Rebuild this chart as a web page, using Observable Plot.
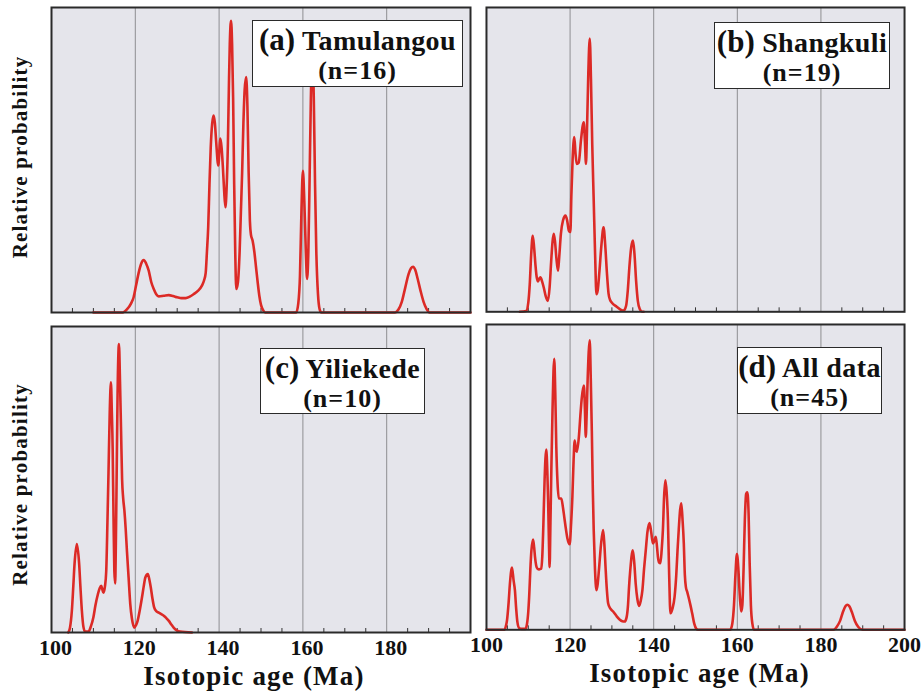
<!DOCTYPE html>
<html>
<head>
<meta charset="utf-8">
<script src="https://cdn.jsdelivr.net/npm/d3@7"></script>
<script src="https://cdn.jsdelivr.net/npm/@observablehq/plot@0.6"></script>
<style>
  html, body { margin: 0; padding: 0; background: #ffffff; }
  #wrap { position: relative; width: 922px; height: 692px; background: #ffffff; overflow: hidden; }
  .pnl { position: absolute; }
  .pnl svg { overflow: visible; }
  .lab { position: absolute; box-sizing: border-box; background: #ffffff; border: 1.5px solid #2a2a2a;
         font-family: "Liberation Serif", "DejaVu Serif", serif; font-weight: bold; color: #111; text-align: center; }
  .lab .l1 { white-space: nowrap; font-size: 28px; line-height: 30px; margin-top: 4px; letter-spacing: 0.4px; }
  .lab .tag { font-size: 31px; letter-spacing: 0; }
  .lab .l2 { white-space: nowrap; font-size: 26px; line-height: 26px; margin-top: 2px; letter-spacing: 1px; }
  g[aria-label="x-axis tick label"] text { font-size: 22px; }
</style>
</head>
<body>
<div id="wrap"></div>
<script>
// ---------- data ----------
const leftTicks = [100, 120, 140, 160, 180];
const rightTicks = [100, 120, 140, 160, 180, 200];
const gridAges = [120, 140, 160, 180];
const minorAges = [105, 110, 115, 125, 130, 135, 145, 150, 155, 165, 170, 175, 185, 190, 195];
const panelTags = ["(a)", "(b)", "(c)", "(d)"];
const panelNames = ["Tamulangou", "Shangkuli", "Yiliekede", "All data"];
const panelCounts = [16, 19, 10, 45];
const xTitle = "Isotopic age (Ma)";
const yTitle = "Relative probability";

// [age (Ma), relative probability]
const curveA = [
  [110,0],[117,0],[118,0.01],[119,0.03],[119.6,0.05],[120.2,0.09],[120.8,0.13],[121.4,0.16],[122,0.172],
  [122.6,0.16],[123.2,0.137],[123.8,0.1],[124.4,0.077],[125,0.06],[125.6,0.053],[126.8,0.055],[128,0.057],
  [129,0.054],[130,0.05],[131,0.047],[132,0.047],[133,0.052],[133.9,0.06],[135,0.072],[135.9,0.088],
  [136.4,0.105],[136.8,0.13],[137.1,0.2],[137.4,0.28],[137.7,0.42],[138,0.54],[138.35,0.62],[138.7,0.646],
  [139,0.62],[139.3,0.56],[139.8,0.482],[140.3,0.57],[140.6,0.54],[140.9,0.477],[141.2,0.4],[141.5,0.345],
  [141.8,0.41],[142.1,0.553],[142.35,0.75],[142.55,0.88],[142.85,0.956],[143.1,0.88],[143.35,0.7],
  [143.6,0.42],[143.85,0.2],[144.1,0.077],[144.5,0.1],[144.9,0.2],[145.2,0.33],[145.5,0.46],[145.8,0.62],
  [146.1,0.73],[146.45,0.772],[146.75,0.68],[147.05,0.46],[147.35,0.3],[147.6,0.255],[148,0.235],
  [148.4,0.2],[148.8,0.15],[149.2,0.1],[149.6,0.055],[150,0.025],[150.5,0.008],[151,0],
  [158.4,0],[158.9,0.03],[159.3,0.12],[159.65,0.33],[160,0.465],[160.35,0.36],[160.7,0.2],[161,0.11],
  [161.3,0.2],[161.6,0.44],[161.9,0.7],[162.25,0.85],[162.6,0.7],[162.9,0.42],[163.2,0.2],[163.6,0.06],
  [164,0.01],[164.4,0],[182,0],[182.8,0.01],[183.6,0.035],[184.4,0.08],[185.2,0.125],[185.8,0.145],
  [186.3,0.15],[186.8,0.14],[187.4,0.11],[188.1,0.07],[188.8,0.035],[189.5,0.012],[190.2,0],[200,0]
];

const curveB = [
  [108,0],[109.5,0.003],[110,0.03],[110.35,0.09],[110.7,0.19],[111.07,0.25],[111.4,0.21],[111.7,0.157],
  [112,0.115],[112.3,0.1],[112.6,0.108],[112.9,0.113],[113.3,0.1],[113.7,0.08],[114.2,0.05],[114.7,0.036],
  [115.1,0.08],[115.45,0.16],[115.8,0.23],[116.1,0.256],[116.4,0.23],[116.7,0.18],[117.1,0.135],
  [117.4,0.18],[117.8,0.256],[118.3,0.3],[118.9,0.316],[119.3,0.3],[119.7,0.267],[120.07,0.262],
  [120.3,0.38],[120.6,0.5],[121,0.574],[121.3,0.52],[121.6,0.486],[122.06,0.49],[122.6,0.563],[123,0.61],
  [123.26,0.623],[123.55,0.56],[123.8,0.486],[124.05,0.6],[124.35,0.78],[124.7,0.898],[125,0.76],
  [125.3,0.55],[125.65,0.366],[126,0.18],[126.3,0.058],[126.6,0.07],[127,0.13],[127.5,0.22],[128,0.278],
  [128.4,0.22],[128.8,0.13],[129.2,0.06],[129.6,0.038],[130,0.03],[131.2,0.016],[132.2,0.006],
  [132.8,0.004],[133.4,0.02],[133.8,0.07],[134.2,0.15],[134.6,0.21],[135.05,0.234],[135.4,0.19],
  [135.8,0.1],[136.2,0.036],[136.7,0.008],[137.2,0],[137.6,0]
];

const curveC = [
  [104,0],[104.4,0.015],[104.86,0.071],[105.2,0.15],[105.5,0.224],[106.05,0.289],[106.6,0.224],
  [106.9,0.15],[107.25,0.071],[107.6,0.02],[108,0.003],[108.85,0.003],[109.4,0.02],[110,0.05],
  [110.5,0.09],[111.07,0.125],[111.5,0.145],[111.87,0.153],[112.15,0.14],[112.4,0.13],[112.75,0.15],
  [113.06,0.2],[113.35,0.36],[113.6,0.52],[113.9,0.72],[114.18,0.818],[114.4,0.72],[114.6,0.6],
  [114.8,0.38],[115,0.2],[115.2,0.16],[115.35,0.28],[115.5,0.45],[115.77,0.78],[116.1,0.943],
  [116.35,0.82],[116.6,0.66],[116.85,0.5],[117.1,0.44],[117.4,0.398],[117.7,0.34],[118,0.267],
  [118.4,0.18],[118.8,0.093],[119.2,0.045],[119.75,0.016],[120.2,0.025],[120.55,0.038],[121.1,0.075],
  [121.6,0.115],[122,0.15],[122.4,0.18],[123,0.191],[123.4,0.17],[123.7,0.147],[124.1,0.11],
  [124.5,0.082],[125,0.07],[125.6,0.065],[126.2,0.06],[126.8,0.055],[127.4,0.047],[128,0.038],
  [128.6,0.026],[129.15,0.016],[129.9,0.007],[130.7,0.003],[133.5,0]
];

const curveD = [
  [100,0],[104.3,0],[104.6,0.01],[104.9,0.03],[105.3,0.09],[105.6,0.15],[106.1,0.204],[106.5,0.16],
  [106.8,0.13],[107.1,0.07],[107.4,0.025],[107.8,0.006],[108.4,0.003],[109.3,0.003],[109.7,0.02],
  [110,0.06],[110.25,0.12],[110.5,0.2],[110.75,0.26],[111.15,0.296],[111.4,0.27],[111.6,0.24],
  [111.9,0.21],[112.2,0.2],[112.6,0.198],[113.1,0.2],[113.35,0.24],[113.6,0.34],[113.9,0.49],[114.3,0.59],
  [114.55,0.52],[114.75,0.42],[114.95,0.28],[115.1,0.205],[115.3,0.35],[115.55,0.55],[115.8,0.72],
  [116.2,0.888],[116.45,0.78],[116.7,0.6],[117,0.48],[117.3,0.43],[117.9,0.43],[118.3,0.4],[118.6,0.37],
  [119,0.33],[119.35,0.3],[119.9,0.28],[120.25,0.35],[120.55,0.436],[120.85,0.56],[121.1,0.62],
  [121.4,0.59],[121.6,0.583],[122.1,0.632],[122.45,0.7],[122.8,0.76],[123.3,0.8],[123.55,0.72],
  [123.75,0.632],[123.95,0.7],[124.2,0.82],[124.7,0.948],[124.95,0.82],[125.2,0.65],[125.45,0.45],
  [125.65,0.327],[125.95,0.2],[126.3,0.13],[126.6,0.15],[126.9,0.196],[127.4,0.28],[127.9,0.327],
  [128.2,0.28],[128.5,0.2],[128.8,0.13],[129.1,0.087],[129.6,0.07],[130.3,0.06],[131.1,0.045],
  [131.9,0.033],[132.5,0.028],[133.05,0.027],[133.5,0.04],[133.85,0.08],[134.1,0.14],[134.4,0.196],
  [135,0.26],[135.35,0.22],[135.7,0.15],[136.1,0.1],[136.5,0.078],[136.9,0.095],[137.3,0.13],
  [137.7,0.2],[138.1,0.26],[138.5,0.32],[139,0.35],[139.4,0.32],[139.8,0.283],[140.1,0.29],[140.5,0.305],
  [140.8,0.27],[141,0.24],[141.3,0.22],[141.6,0.218],[141.9,0.26],[142.2,0.327],[142.5,0.44],[142.8,0.49],
  [143.1,0.45],[143.4,0.36],[143.7,0.18],[144,0.054],[144.5,0.07],[145,0.109],[145.4,0.18],[145.7,0.26],
  [146,0.33],[146.3,0.39],[146.6,0.414],[146.9,0.36],[147.2,0.283],[147.45,0.18],[147.7,0.14],
  [148,0.125],[148.3,0.109],[148.8,0.08],[149.2,0.054],[149.7,0.02],[150.2,0.003],[150.6,0],
  [158.3,0],[158.8,0.02],[159.2,0.08],[159.55,0.18],[159.9,0.248],[160.25,0.2],[160.6,0.11],
  [160.93,0.06],[161.2,0.08],[161.5,0.2],[161.8,0.36],[162.1,0.445],[162.4,0.45],[162.7,0.38],
  [162.95,0.22],[163.25,0.08],[163.6,0.02],[164,0],[183,0],[183.8,0.01],[184.6,0.03],[185.3,0.06],
  [185.9,0.078],[186.3,0.082],[186.8,0.077],[187.4,0.058],[188.1,0.03],[188.9,0.01],[190,0],[200,0]
];

const curves = [curveA, curveB, curveC, curveD];

// ---------- layout ----------
const layout = [
  {left: 0,   top: 0,   mL: 51, mR: 6,  mT: 7, mB: 1,  h: 313, ticks: null, tdx: 0, xdx: 0, ydy: -3, showY: true,
   box: {left: 252, top: 20, width: 211, height: 67}},
  {left: 476, top: 0,   mL: 10, mR: 18, mT: 7, mB: 1,  h: 313, ticks: null, tdx: 0, xdx: 0, ydy: 0, showY: false,
   box: {left: 714, top: 22, width: 176, height: 67}},
  {left: 0,   top: 318, mL: 51, mR: 6,  mT: 8, mB: 60, h: 374, ticks: leftTicks, tdx: 4, xdx: -7, ydy: 5, showY: true,
   box: {left: 260, top: 348, width: 165, height: 66}},
  {left: 476, top: 318, mL: 10, mR: 18, mT: 6, mB: 62, h: 374, ticks: rightTicks, tdx: 0, xdx: 4, ydy: 0, showY: false,
   box: {left: 737, top: 347, width: 145, height: 67}}
];

const wrap = document.getElementById("wrap");
const serif = "'Liberation Serif', 'DejaVu Serif', serif";

layout.forEach((L, i) => {
  const rows = curves[i].map(([age, p]) => ({age, p}));
  const width = L.mL + 419 + L.mR;
  const marks = [
    Plot.frame({fill: "#e5e5eb"}),
    Plot.ruleX(gridAges, {stroke: "#8e8e92", strokeWidth: 1}),
    Plot.ruleX(minorAges, {y1: 0, y2: 0.013, stroke: "#333", strokeWidth: 1}),
    Plot.line(rows, {x: "age", y: "p", stroke: "#dc2a26", strokeWidth: 2.6, curve: "monotone-x"}),
    Plot.frame({stroke: "#2a2a2a", strokeWidth: 2})
  ];
  if (L.ticks) {
    marks.push(Plot.axisX({ticks: L.ticks, tickSize: 0, tickPadding: 7, fontSize: 22, dx: L.tdx,
                           tickFormat: d => String(d), label: null}));
    marks.push(Plot.text([xTitle], {text: d => d, frameAnchor: "bottom", textAnchor: "middle",
                                    dy: 52, dx: L.xdx, fontSize: 27, className: "xlab"}));
  } else {
    marks.push(Plot.axisX({ticks: [], label: null}));
  }
  marks.push(Plot.axisY({ticks: [], label: null}));
  if (L.showY) {
    marks.push(Plot.text([yTitle], {text: d => d, frameAnchor: "left", textAnchor: "middle",
                                    dx: -31, dy: L.ydy, rotate: -90, fontSize: 21, className: "ylab"}));
  }
  const svg = Plot.plot({
    width, height: L.h,
    marginLeft: L.mL, marginRight: L.mR, marginTop: L.mT, marginBottom: L.mB,
    x: {domain: [100, 200]},
    y: {domain: [0, 1]},
    style: {fontFamily: serif, fontWeight: "bold", background: "transparent", color: "#111", overflow: "visible"},
    marks
  });
  const div = document.createElement("div");
  div.className = "pnl";
  div.style.left = L.left + "px";
  div.style.top = L.top + "px";
  div.appendChild(svg);
  wrap.appendChild(div);

  // label box
  const b = document.createElement("div");
  b.className = "lab";
  Object.assign(b.style, {left: L.box.left + "px", top: L.box.top + "px",
                          width: L.box.width + "px", height: L.box.height + "px"});
  const l1 = document.createElement("div");
  l1.className = "l1";
  const tag = document.createElement("span");
  tag.className = "tag";
  tag.textContent = panelTags[i];
  l1.appendChild(tag);
  l1.appendChild(document.createTextNode(" " + panelNames[i]));
  const l2 = document.createElement("div");
  l2.className = "l2";
  l2.textContent = "(n=" + panelCounts[i] + ")";
  b.appendChild(l1);
  b.appendChild(l2);
  wrap.appendChild(b);
});

// letter spacing for the axis titles
d3.selectAll("g.ylab text").style("letter-spacing", "1.2px");
d3.selectAll("g.xlab text").style("letter-spacing", "1.2px");
</script>
</body>
</html>
